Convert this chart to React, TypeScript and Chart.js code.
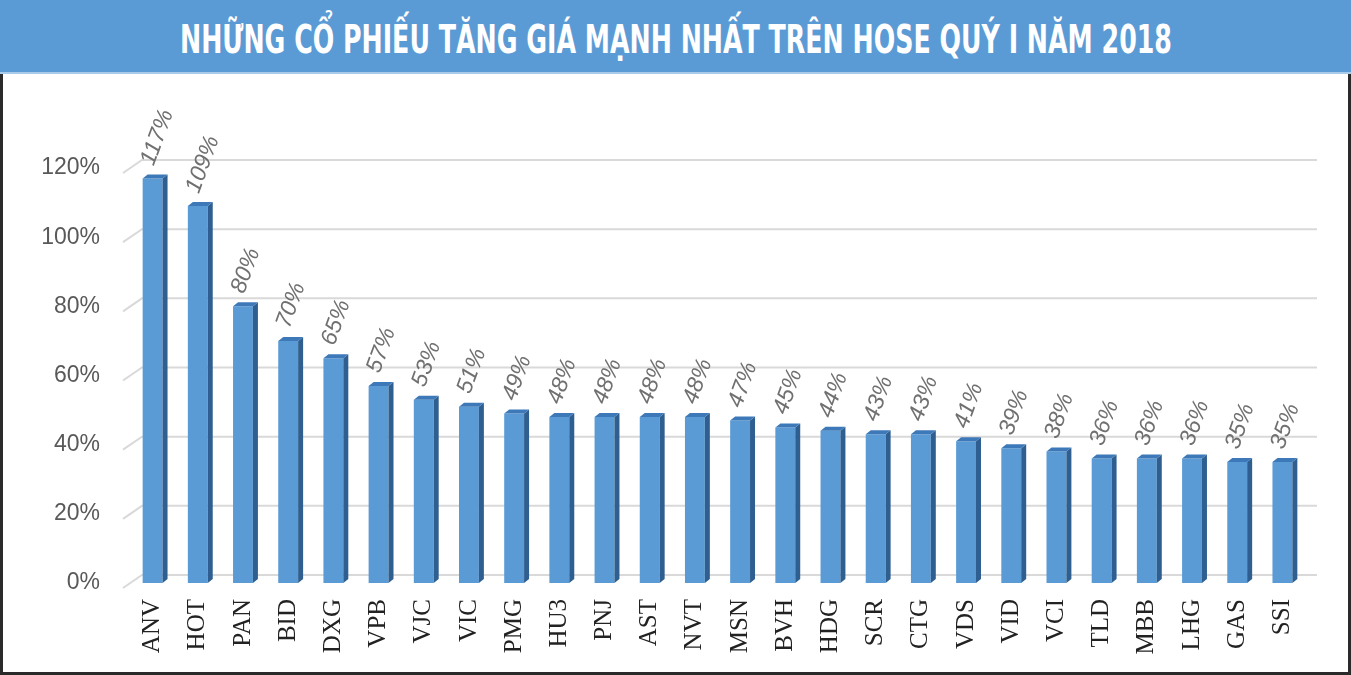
import React, { useEffect, useRef } from "react";
import { Chart, registerables } from "chart.js";

Chart.register(...registerables);

const TITLE = "NHỮNG CỔ PHIẾU TĂNG GIÁ MẠNH NHẤT TRÊN HOSE QUÝ I NĂM 2018";
const categories = [
  "ANV", "HOT", "PAN", "BID", "DXG", "VPB", "VJC", "VIC", "PMG", "HU3", "PNJ", "AST", "NVT",
  "MSN", "BVH", "HDG", "SCR", "CTG", "VDS", "VID", "VCI", "TLD", "MBB", "LHG", "GAS", "SSI",
];
const values = [
  117, 109, 80, 70, 65, 57, 53, 51, 49, 48, 48, 48, 48,
  47, 45, 44, 43, 43, 41, 39, 38, 36, 36, 36, 35, 35,
];
const yMin = 0;
const yMax = 120;
const yStep = 20;

const DX = 12;
const DY = -8;

const bar3d = {
  id: "bar3d",
  beforeDatasetsDraw(chart: any) {
    const { ctx, chartArea, scales } = chart;
    const y = scales.y;
    ctx.save();
    ctx.strokeStyle = "#d9d9d9";
    ctx.lineWidth = 2;
    for (let v = yMin; v <= yMax; v += yStep) {
      const py = y.getPixelForValue(v);
      ctx.beginPath();
      ctx.moveTo(chartArea.left - 7, py + 5);
      ctx.lineTo(chartArea.left + DX, py + DY);
      ctx.lineTo(chartArea.right + DX, py + DY);
      ctx.stroke();
    }
    ctx.restore();
  },
  afterDatasetsDraw(chart: any) {
    const { ctx } = chart;
    const meta = chart.getDatasetMeta(0);
    ctx.save();
    meta.data.forEach((el: any, i: number) => {
      const left = el.x - el.width / 2;
      const right = el.x + el.width / 2;
      const top = el.y;
      const base = el.base;
      const sx = 5;
      const sy = -4;
      ctx.fillStyle = "#2e5f90";
      ctx.beginPath();
      ctx.moveTo(right, top);
      ctx.lineTo(right + sx, top + sy);
      ctx.lineTo(right + sx, base + sy);
      ctx.lineTo(right, base);
      ctx.closePath();
      ctx.fill();
      ctx.fillStyle = "#3d79b8";
      ctx.beginPath();
      ctx.moveTo(left, top);
      ctx.lineTo(left + sx, top + sy);
      ctx.lineTo(right + sx, top + sy);
      ctx.lineTo(right, top);
      ctx.closePath();
      ctx.fill();
      ctx.save();
      ctx.translate(el.x - 5, top - 14);
      ctx.rotate((-70 * Math.PI) / 180);
      ctx.font = "italic 23px 'Liberation Sans', Arial, sans-serif";
      ctx.fillStyle = "#707070";
      ctx.textAlign = "left";
      ctx.textBaseline = "middle";
      ctx.fillText(values[i] + "%", 0, 0);
      ctx.restore();
    });
    ctx.restore();
  },
};

export default function App() {
  const ref = useRef<HTMLCanvasElement>(null);
  const titleRef = useRef<HTMLSpanElement>(null);
  useEffect(() => {
    document.body.style.margin = "0";
    const t = titleRef.current;
    if (t) {
      const w = t.offsetWidth;
      if (w > 0) t.style.transform = `scaleX(${992 / w})`;
    }
    const chart = new Chart(ref.current as HTMLCanvasElement, {
      type: "bar",
      data: {
        labels: categories,
        datasets: [
          {
            data: values,
            backgroundColor: "#5b9bd5",
            borderWidth: 0,
            barPercentage: 0.44,
            categoryPercentage: 1,
          },
        ],
      },
      options: {
        animation: false,
        responsive: true,
        maintainAspectRatio: false,
        layout: { padding: { top: 168, right: 46, left: 0, bottom: 0 } },
        plugins: { legend: { display: false }, tooltip: { enabled: false }, title: { display: false } },
        scales: {
          x: {
            grid: { display: false, drawTicks: false },
            border: { display: false },
            afterFit: (s: any) => { s.height = 92; },
            ticks: {
              autoSkip: false,
              maxRotation: 90,
              minRotation: 90,
              padding: 16,
              color: "#222222",
              font: { family: "'Liberation Serif', 'Times New Roman', serif", size: 25, weight: "normal" },
            },
          },
          y: {
            min: yMin,
            max: yMax,
            grid: { display: false, drawTicks: false },
            border: { display: false },
            afterFit: (s: any) => { s.width = 130; },
            ticks: {
              stepSize: yStep,
              padding: 30,
              color: "#595959",
              font: { family: "'Liberation Sans', Arial, sans-serif", size: 23 },
              callback: (v: any) => v + "%",
            },
          },
        },
      },
      plugins: [bar3d],
    });
    return () => chart.destroy();
  }, []);

  return (
    <div style={{ position: "relative", width: 1351, height: 675, background: "#fff", overflow: "hidden" }}>
      <div style={{ position: "absolute", left: 0, top: 0, width: 1351, height: 675 }}>
        <canvas ref={ref} />
      </div>
      <div
        style={{
          position: "absolute", left: 0, top: 0, width: 1351, height: 74,
          background: "#5b9bd5", borderBottom: "2px solid #a9cbea", boxSizing: "border-box",
          display: "flex", alignItems: "center", justifyContent: "center", paddingTop: 6,
        }}
      >
        <span
          ref={titleRef}
          style={{
            display: "inline-block", color: "#fff",
            fontFamily: "'DejaVu Sans', 'Liberation Sans', sans-serif",
            fontWeight: "bold", fontSize: 39, whiteSpace: "nowrap", transformOrigin: "center center",
          }}
        >
          {TITLE}
        </span>
      </div>
      <div
        style={{
          position: "absolute", left: 0, top: 74, width: 1351, height: 601,
          borderLeft: "3px solid #2a2a2a", borderRight: "3px solid #2a2a2a", borderBottom: "3px solid #2a2a2a",
          boxSizing: "border-box", pointerEvents: "none",
        }}
      />
    </div>
  );
}
